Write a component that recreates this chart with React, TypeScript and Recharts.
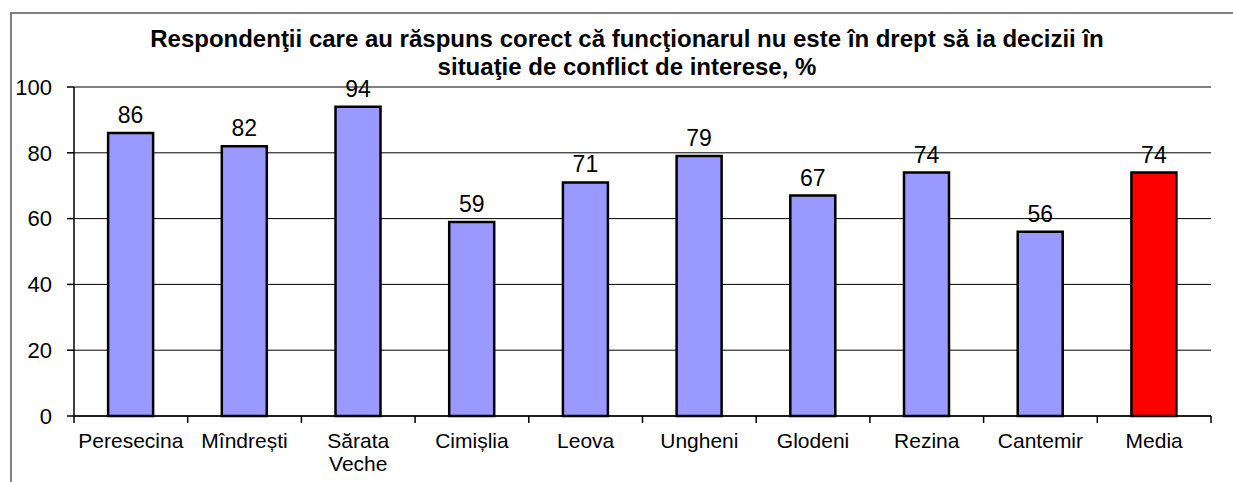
import { BarChart, Bar, XAxis, YAxis, CartesianGrid, Cell, LabelList, ReferenceLine } from "recharts";

// chart data
const categories = ["Peresecina", "Mîndrești", "Sărata Veche", "Cimișlia", "Leova", "Ungheni", "Glodeni", "Rezina", "Cantemir", "Media"];
const values = [86, 82, 94, 59, 71, 79, 67, 74, 56, 74];
const yTicks = [0, 20, 40, 60, 80, 100];
const highlighted = "Media";

const titleLines = [
    "Respondenţii care au răspuns corect că funcţionarul nu este în drept să ia decizii în",
    "situaţie de conflict de interese, %",
];

const W = 1233;
const H = 482;
const MARGIN = { top: 87, right: 22, bottom: 0, left: 0 };
const Y_AXIS_W = 74;
const X_AXIS_H = 66;
const FONT = "'Liberation Sans', Arial, sans-serif";

const data = categories.map((name, i) => ({ name, value: values[i] }));
const half = (W - MARGIN.left - MARGIN.right - Y_AXIS_W) / categories.length / 2;

// category label + tick marks placed on the category borders (Excel style)
function XTick(props: any) {
    const { x, y, payload, index } = props;
    const lines = String(payload.value).split(" ");
    return (
        <g>
            <line x1={x - half} x2={x - half} y1={y} y2={y + 7} stroke="#000" strokeWidth={1.5} />
            {index === categories.length - 1 && (
                <line x1={x + half} x2={x + half} y1={y} y2={y + 7} stroke="#000" strokeWidth={1.5} />
            )}
            <text x={x} y={y + 32} textAnchor="middle" fontSize={21} fontFamily={FONT} fill="#000">
                {lines.map((l, i) => (
                    <tspan key={i} x={x} dy={i === 0 ? 0 : 23}>
                        {l}
                    </tspan>
                ))}
            </text>
        </g>
    );
}

export default function App() {
    return (
        <div style={{ position: "absolute", left: 0, top: 0, width: W, height: H, overflow: "hidden", background: "#fff" }}>
            {/* outer chart frame, runs off the right and bottom edges */}
            <div
                style={{
                    position: "absolute",
                    left: 10,
                    top: 12,
                    width: 1400,
                    height: 800,
                    border: "2px solid #808080",
                    boxSizing: "border-box",
                }}
            />
            <div
                style={{
                    position: "absolute",
                    left: 27,
                    top: 25,
                    width: 1200,
                    textAlign: "center",
                    fontFamily: FONT,
                    fontWeight: "bold",
                    fontSize: 24,
                    lineHeight: "28px",
                    color: "#000",
                }}
            >
                {titleLines.map((t) => (
                    <div key={t}>{t}</div>
                ))}
            </div>
            <div style={{ position: "absolute", left: 0, top: 0 }}>
                <BarChart width={W} height={H} data={data} margin={MARGIN} barCategoryGap="30%">
                    <CartesianGrid vertical={false} stroke="#000" strokeWidth={1} />
                    <XAxis
                        dataKey="name"
                        height={X_AXIS_H}
                        interval={0}
                        tickLine={false}
                        tickSize={0}
                        tickMargin={0}
                        axisLine={{ stroke: "#000", strokeWidth: 1.5 }}
                        tick={<XTick />}
                    />
                    <YAxis
                        width={Y_AXIS_W}
                        domain={[0, 100]}
                        ticks={yTicks}
                        interval={0}
                        tickSize={7}
                        tickMargin={15}
                        axisLine={{ stroke: "#000", strokeWidth: 1.5 }}
                        tickLine={{ stroke: "#000", strokeWidth: 1.5 }}
                        tick={{ fontSize: 22, fill: "#000", fontFamily: FONT }}
                    />
                    <YAxis
                        yAxisId="frame"
                        orientation="right"
                        width={0}
                        domain={[0, 100]}
                        tick={false}
                        tickLine={false}
                        axisLine={{ stroke: "#808080", strokeWidth: 2 }}
                    />
                    <ReferenceLine y={100} stroke="#808080" strokeWidth={2} />
                    <Bar dataKey="value" stroke="#000" strokeWidth={2.5} isAnimationActive={false}>
                        {data.map((d) => (
                            <Cell key={d.name} fill={d.name === highlighted ? "#FF0000" : "#9999FF"} />
                        ))}
                        <LabelList dataKey="value" position="top" offset={10} fontSize={23} fill="#000" fontFamily={FONT} />
                    </Bar>
                </BarChart>
            </div>
        </div>
    );
}
